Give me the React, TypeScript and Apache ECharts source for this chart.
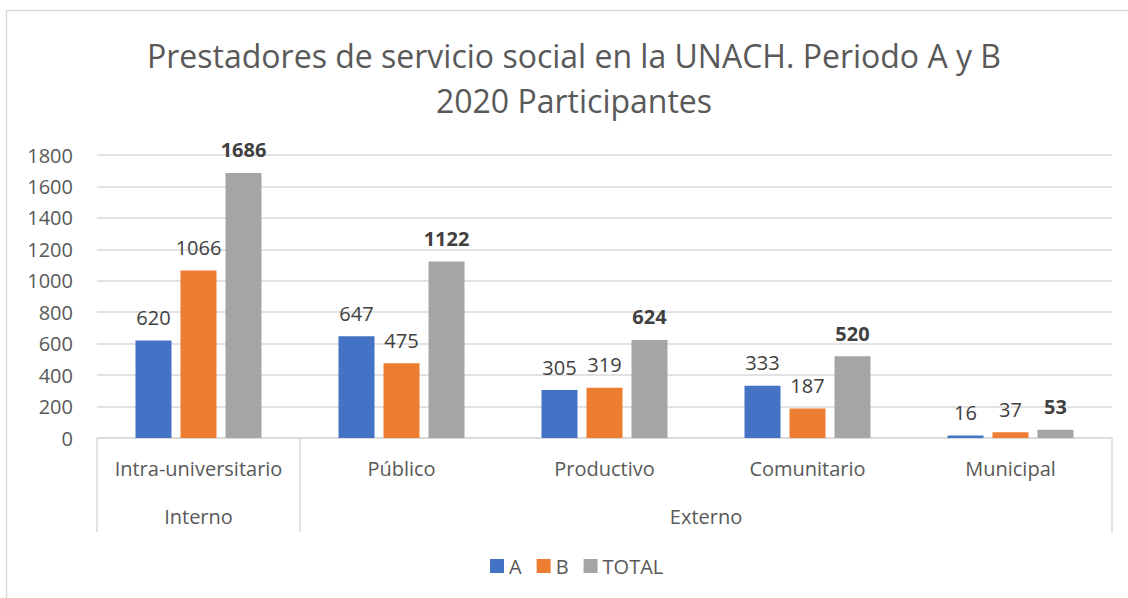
import React, { useEffect, useRef } from "react";
import * as echarts from "echarts";

const categories = ["Intra-universitario", "Público", "Productivo", "Comunitario", "Municipal"];
const groupNames = ["Interno", "Externo"];
const groupSpans = [1, 4];
const seriesNames = ["A", "B", "TOTAL"];
const valuesA = [620, 647, 305, 333, 16];
const valuesB = [1066, 475, 319, 187, 37];
const valuesTotal = [1686, 1122, 624, 520, 53];
const yMin = 0;
const yMax = 1800;
const yInterval = 200;

const colors = ["#4472c4", "#ed7d31", "#a5a5a5"];
const FONT = "'Open Sans', sans-serif";
const TEXT = "#595959";
const GRIDC = "#d9d9d9";
const FS = 20;

export default function App() {
  const ref = useRef<HTMLDivElement>(null);
  useEffect(() => {
    if (!ref.current) return;
    const chart = echarts.init(ref.current, undefined, { renderer: "svg" });

    const bounds: number[] = [0];
    const centers: number[] = [];
    groupSpans.forEach((s, i) => {
      const start = bounds[i];
      bounds.push(start + s);
      centers.push(start + s / 2);
    });

    const seriesData = [valuesA, valuesB, valuesTotal];

    chart.setOption({
      animation: false,
      textStyle: { fontFamily: FONT },
      title: {
        text: "Prestadores de servicio social en la UNACH. Periodo A y B\n2020 Participantes",
        left: 574,
        top: 33,
        textAlign: "center",
        padding: 0,
        textStyle: {
          fontFamily: FONT,
          fontSize: 32,
          fontWeight: "normal",
          color: TEXT,
          lineHeight: 45,
        },
      },
      legend: {
        data: seriesNames,
        left: 485,
        top: 551,
        icon: "rect",
        itemWidth: 14,
        itemHeight: 14,
        itemGap: 15,
        textStyle: { fontFamily: FONT, fontSize: FS, color: TEXT },
      },
      grid: { left: 97, right: 16, top: 155, bottom: 160, containLabel: false },
      xAxis: [
        {
          type: "category",
          data: categories,
          position: "bottom",
          axisLine: { lineStyle: { color: GRIDC, width: 1.5 } },
          axisTick: { show: false },
          axisLabel: { fontFamily: FONT, fontSize: FS, color: TEXT, margin: 20, interval: 0 },
          splitLine: { show: false },
        },
        {
          type: "value",
          min: 0,
          max: categories.length,
          position: "bottom",
          axisLine: { show: false },
          axisTick: {
            show: true,
            length: 94,
            customValues: bounds,
            lineStyle: { color: GRIDC, width: 1.5 },
          },
          axisLabel: {
            show: true,
            customValues: centers,
            margin: 68,
            fontFamily: FONT,
            fontSize: FS,
            color: TEXT,
            formatter: (v: number) => {
              const idx = centers.findIndex((c) => Math.abs(c - v) < 1e-6);
              return idx >= 0 ? groupNames[idx] : "";
            },
          },
          splitLine: { show: false },
        },
      ],
      yAxis: {
        type: "value",
        min: yMin,
        max: yMax,
        interval: yInterval,
        axisLine: { show: false },
        axisTick: { show: false },
        axisLabel: {
          fontFamily: FONT,
          fontSize: FS,
          color: TEXT,
          margin: 24,
          formatter: (v: number) => String(v),
        },
        splitLine: { lineStyle: { color: GRIDC, width: 1.5 } },
      },
      series: seriesNames.map((name, i) => ({
        name,
        type: "bar",
        xAxisIndex: 0,
        data: seriesData[i],
        barWidth: 36,
        barGap: "25%",
        itemStyle: { color: colors[i] },
        label: {
          show: true,
          position: "top",
          distance: 13,
          fontFamily: FONT,
          fontSize: FS,
          color: "#404040",
          fontWeight: i === 2 ? "bold" : "normal",
        },
      })),
      graphic: [
        {
          type: "rect",
          shape: { x: 6.5, y: 10.5, width: 1130, height: 600 },
          style: { fill: "none", stroke: GRIDC, lineWidth: 1.5 },
          silent: true,
        },
      ],
    });
    return () => chart.dispose();
  }, []);
  return (
    <div
      ref={ref}
      style={{ position: "absolute", left: 0, top: 0, width: 1128, height: 598, background: "#fff" }}
    />
  );
}
